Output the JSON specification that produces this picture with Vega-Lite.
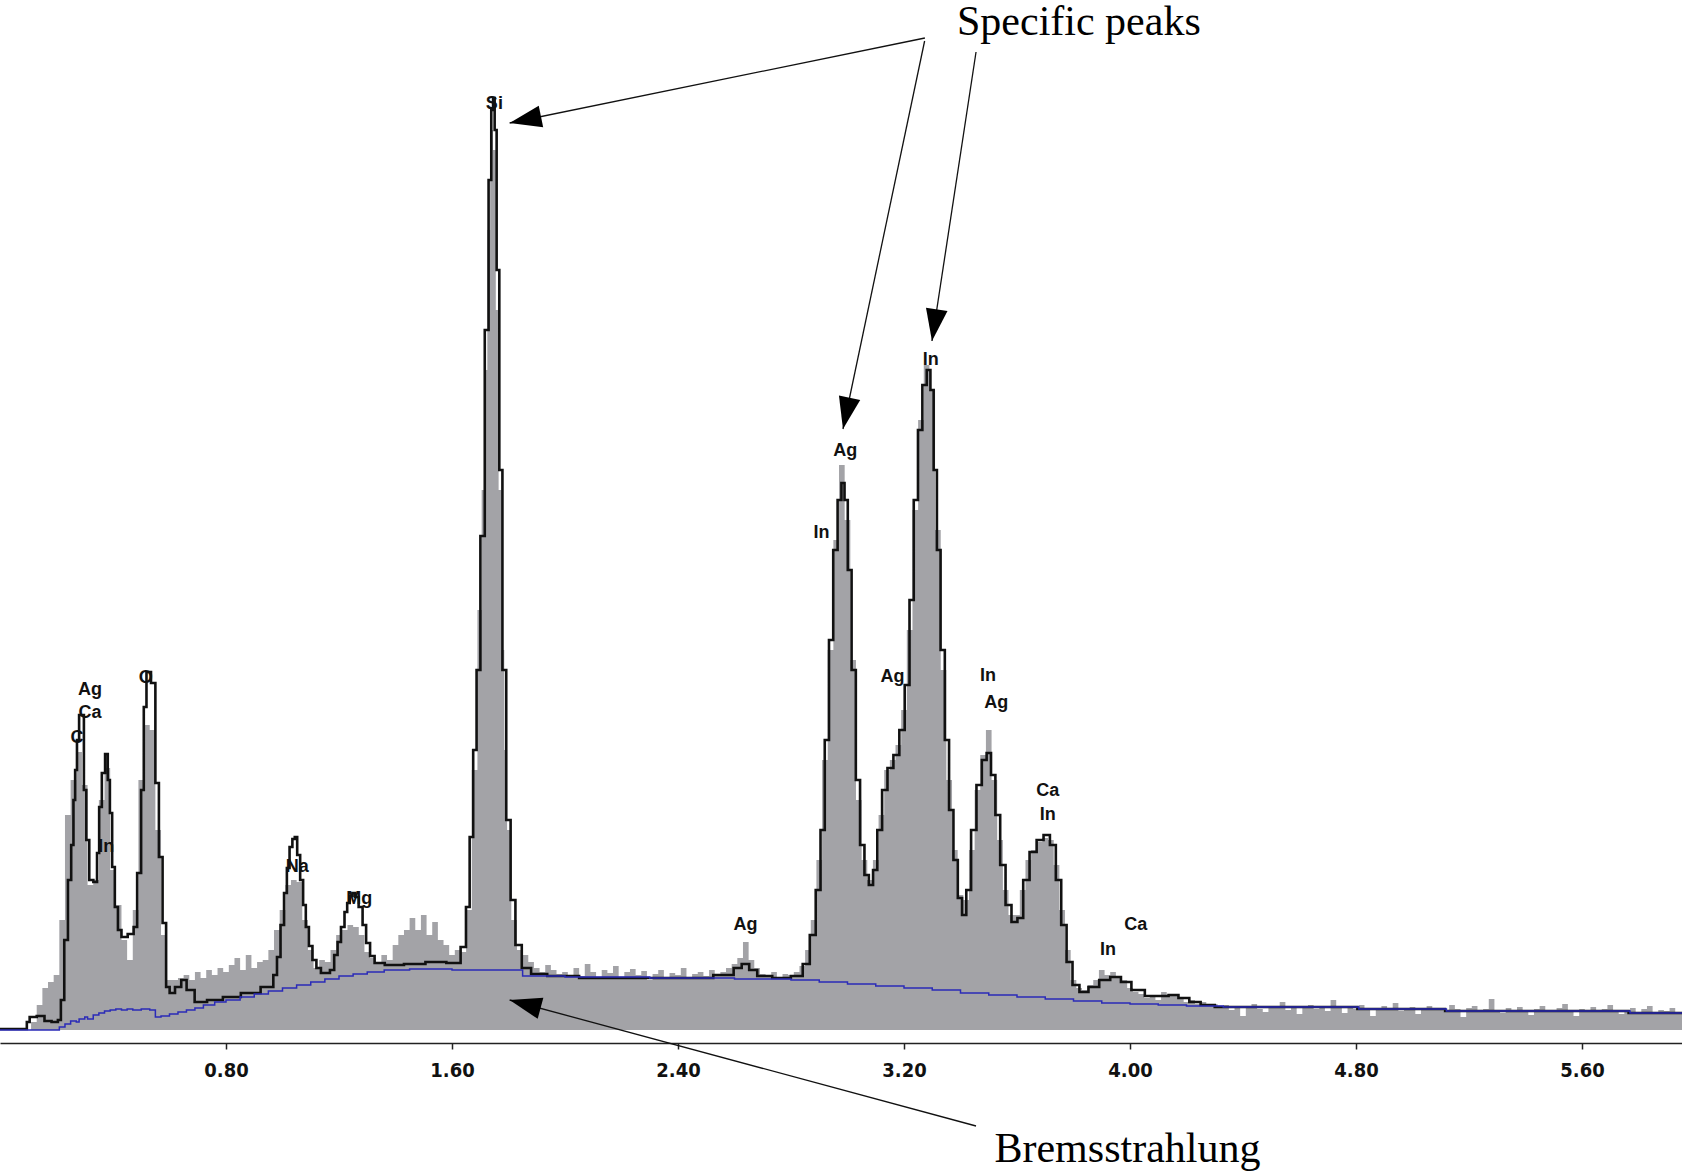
{
"$schema": "https://vega.github.io/schema/vega-lite/v6.json",
"width": 1682, "height": 1030,
"autosize": {"type": "none"},
"padding": {"left": 0, "top": 0, "right": 0, "bottom": 145},
"background": "white",
"config": {"view": {"stroke": null}},
"datasets": {
"gray": [
{"kev":0.00,"counts":0},{"kev":0.02,"counts":0},{"kev":0.04,"counts":0},{"kev":0.06,"counts":0},{"kev":0.08,"counts":0},{"kev":0.10,"counts":0},
{"kev":0.12,"counts":8},{"kev":0.14,"counts":25},{"kev":0.16,"counts":42},{"kev":0.18,"counts":48},{"kev":0.20,"counts":55},{"kev":0.22,"counts":110},
{"kev":0.24,"counts":215},{"kev":0.26,"counts":250},{"kev":0.28,"counts":278},{"kev":0.30,"counts":245},{"kev":0.32,"counts":145},{"kev":0.34,"counts":150},
{"kev":0.36,"counts":230},{"kev":0.38,"counts":262},{"kev":0.40,"counts":160},{"kev":0.42,"counts":125},{"kev":0.44,"counts":90},{"kev":0.46,"counts":70},
{"kev":0.48,"counts":120},{"kev":0.50,"counts":250},{"kev":0.52,"counts":305},{"kev":0.54,"counts":300},{"kev":0.56,"counts":200},{"kev":0.58,"counts":95},
{"kev":0.60,"counts":50},{"kev":0.62,"counts":50},{"kev":0.64,"counts":52},{"kev":0.66,"counts":55},{"kev":0.68,"counts":50},{"kev":0.70,"counts":58},
{"kev":0.72,"counts":52},{"kev":0.74,"counts":60},{"kev":0.76,"counts":55},{"kev":0.78,"counts":62},{"kev":0.80,"counts":58},{"kev":0.82,"counts":65},
{"kev":0.84,"counts":72},{"kev":0.86,"counts":60},{"kev":0.88,"counts":75},{"kev":0.90,"counts":62},{"kev":0.92,"counts":68},{"kev":0.94,"counts":70},
{"kev":0.96,"counts":80},{"kev":0.98,"counts":100},{"kev":1.00,"counts":120},{"kev":1.02,"counts":145},{"kev":1.04,"counts":150},{"kev":1.06,"counts":148},
{"kev":1.08,"counts":110},{"kev":1.10,"counts":80},{"kev":1.12,"counts":62},{"kev":1.14,"counts":70},{"kev":1.16,"counts":68},{"kev":1.18,"counts":80},
{"kev":1.20,"counts":95},{"kev":1.22,"counts":100},{"kev":1.24,"counts":105},{"kev":1.26,"counts":103},{"kev":1.28,"counts":95},{"kev":1.30,"counts":78},
{"kev":1.32,"counts":72},{"kev":1.34,"counts":68},{"kev":1.36,"counts":75},{"kev":1.38,"counts":70},{"kev":1.40,"counts":85},{"kev":1.42,"counts":95},
{"kev":1.44,"counts":100},{"kev":1.46,"counts":112},{"kev":1.48,"counts":100},{"kev":1.50,"counts":115},{"kev":1.52,"counts":95},{"kev":1.54,"counts":108},
{"kev":1.56,"counts":90},{"kev":1.58,"counts":85},{"kev":1.60,"counts":75},{"kev":1.62,"counts":80},{"kev":1.64,"counts":78},{"kev":1.66,"counts":120},
{"kev":1.68,"counts":260},{"kev":1.70,"counts":420},{"kev":1.71,"counts":540},{"kev":1.72,"counts":660},{"kev":1.73,"counts":800},{"kev":1.74,"counts":900},
{"kev":1.75,"counts":880},{"kev":1.76,"counts":720},{"kev":1.77,"counts":540},{"kev":1.78,"counts":380},{"kev":1.79,"counts":280},{"kev":1.80,"counts":200},
{"kev":1.82,"counts":110},{"kev":1.84,"counts":80},{"kev":1.86,"counts":75},{"kev":1.88,"counts":68},{"kev":1.90,"counts":62},{"kev":1.92,"counts":58},
{"kev":1.94,"counts":65},{"kev":1.96,"counts":60},{"kev":1.98,"counts":56},{"kev":2.00,"counts":58},{"kev":2.02,"counts":55},{"kev":2.04,"counts":62},
{"kev":2.06,"counts":54},{"kev":2.08,"counts":66},{"kev":2.10,"counts":58},{"kev":2.12,"counts":53},{"kev":2.14,"counts":60},{"kev":2.16,"counts":57},
{"kev":2.18,"counts":64},{"kev":2.20,"counts":52},{"kev":2.22,"counts":58},{"kev":2.24,"counts":61},{"kev":2.26,"counts":55},{"kev":2.28,"counts":59},
{"kev":2.30,"counts":50},{"kev":2.32,"counts":56},{"kev":2.34,"counts":60},{"kev":2.36,"counts":53},{"kev":2.38,"counts":57},{"kev":2.40,"counts":55},
{"kev":2.42,"counts":62},{"kev":2.44,"counts":52},{"kev":2.46,"counts":56},{"kev":2.48,"counts":58},{"kev":2.50,"counts":54},{"kev":2.52,"counts":60},
{"kev":2.54,"counts":56},{"kev":2.56,"counts":58},{"kev":2.58,"counts":62},{"kev":2.60,"counts":66},{"kev":2.62,"counts":72},{"kev":2.64,"counts":88},
{"kev":2.66,"counts":70},{"kev":2.68,"counts":62},{"kev":2.70,"counts":56},{"kev":2.72,"counts":54},{"kev":2.74,"counts":58},{"kev":2.76,"counts":52},
{"kev":2.78,"counts":56},{"kev":2.80,"counts":55},{"kev":2.82,"counts":58},{"kev":2.84,"counts":64},{"kev":2.86,"counts":80},{"kev":2.88,"counts":110},
{"kev":2.90,"counts":170},{"kev":2.92,"counts":270},{"kev":2.94,"counts":380},{"kev":2.96,"counts":490},{"kev":2.98,"counts":565},{"kev":3.00,"counts":510},
{"kev":3.02,"counts":370},{"kev":3.04,"counts":230},{"kev":3.06,"counts":170},{"kev":3.08,"counts":150},{"kev":3.10,"counts":170},{"kev":3.12,"counts":215},
{"kev":3.14,"counts":260},{"kev":3.16,"counts":270},{"kev":3.18,"counts":285},{"kev":3.20,"counts":320},{"kev":3.22,"counts":400},{"kev":3.24,"counts":520},
{"kev":3.26,"counts":610},{"kev":3.28,"counts":665},{"kev":3.30,"counts":640},{"kev":3.32,"counts":500},{"kev":3.34,"counts":360},{"kev":3.36,"counts":250},
{"kev":3.38,"counts":180},{"kev":3.40,"counts":135},{"kev":3.42,"counts":130},{"kev":3.44,"counts":180},{"kev":3.46,"counts":240},{"kev":3.48,"counts":275},
{"kev":3.50,"counts":300},{"kev":3.52,"counts":250},{"kev":3.54,"counts":190},{"kev":3.56,"counts":140},{"kev":3.58,"counts":115},{"kev":3.60,"counts":115},
{"kev":3.62,"counts":140},{"kev":3.64,"counts":170},{"kev":3.66,"counts":180},{"kev":3.68,"counts":188},{"kev":3.70,"counts":192},{"kev":3.72,"counts":190},
{"kev":3.74,"counts":165},{"kev":3.76,"counts":120},{"kev":3.78,"counts":80},{"kev":3.80,"counts":50},{"kev":3.82,"counts":42},{"kev":3.84,"counts":40},
{"kev":3.86,"counts":45},{"kev":3.88,"counts":50},{"kev":3.90,"counts":60},{"kev":3.92,"counts":55},{"kev":3.94,"counts":58},{"kev":3.96,"counts":52},
{"kev":3.98,"counts":50},{"kev":4.00,"counts":42},{"kev":4.02,"counts":38},{"kev":4.04,"counts":36},{"kev":4.06,"counts":32},{"kev":4.08,"counts":35},
{"kev":4.10,"counts":30},{"kev":4.12,"counts":38},{"kev":4.14,"counts":34},{"kev":4.16,"counts":36},{"kev":4.18,"counts":32},{"kev":4.20,"counts":28},
{"kev":4.22,"counts":30},{"kev":4.24,"counts":26},{"kev":4.26,"counts":28},{"kev":4.28,"counts":24},{"kev":4.30,"counts":26},{"kev":4.32,"counts":22},
{"kev":4.34,"counts":25},{"kev":4.36,"counts":20},{"kev":4.38,"counts":24},{"kev":4.40,"counts":14},{"kev":4.42,"counts":23},{"kev":4.44,"counts":26},
{"kev":4.46,"counts":21},{"kev":4.48,"counts":18},{"kev":4.50,"counts":24},{"kev":4.52,"counts":22},{"kev":4.54,"counts":28},{"kev":4.56,"counts":20},
{"kev":4.58,"counts":23},{"kev":4.60,"counts":16},{"kev":4.62,"counts":22},{"kev":4.64,"counts":25},{"kev":4.66,"counts":21},{"kev":4.68,"counts":24},
{"kev":4.70,"counts":19},{"kev":4.72,"counts":30},{"kev":4.74,"counts":22},{"kev":4.76,"counts":17},{"kev":4.78,"counts":23},{"kev":4.80,"counts":21},
{"kev":4.82,"counts":25},{"kev":4.84,"counts":20},{"kev":4.86,"counts":14},{"kev":4.88,"counts":22},{"kev":4.90,"counts":24},{"kev":4.92,"counts":21},
{"kev":4.94,"counts":27},{"kev":4.96,"counts":19},{"kev":4.98,"counts":22},{"kev":5.00,"counts":23},{"kev":5.02,"counts":16},{"kev":5.04,"counts":21},
{"kev":5.06,"counts":24},{"kev":5.08,"counts":20},{"kev":5.10,"counts":22},{"kev":5.12,"counts":18},{"kev":5.14,"counts":25},{"kev":5.16,"counts":21},
{"kev":5.18,"counts":13},{"kev":5.20,"counts":22},{"kev":5.22,"counts":24},{"kev":5.24,"counts":19},{"kev":5.26,"counts":21},{"kev":5.28,"counts":31},
{"kev":5.30,"counts":20},{"kev":5.32,"counts":17},{"kev":5.34,"counts":22},{"kev":5.36,"counts":19},{"kev":5.38,"counts":23},{"kev":5.40,"counts":20},
{"kev":5.42,"counts":15},{"kev":5.44,"counts":21},{"kev":5.46,"counts":24},{"kev":5.48,"counts":18},{"kev":5.50,"counts":20},{"kev":5.52,"counts":22},
{"kev":5.54,"counts":26},{"kev":5.56,"counts":19},{"kev":5.58,"counts":14},{"kev":5.60,"counts":21},{"kev":5.62,"counts":20},{"kev":5.64,"counts":23},
{"kev":5.66,"counts":18},{"kev":5.68,"counts":21},{"kev":5.70,"counts":25},{"kev":5.72,"counts":19},{"kev":5.74,"counts":16},{"kev":5.76,"counts":20},
{"kev":5.78,"counts":22},{"kev":5.80,"counts":18},{"kev":5.82,"counts":21},{"kev":5.84,"counts":24},{"kev":5.86,"counts":17},{"kev":5.88,"counts":20},
{"kev":5.90,"counts":19},{"kev":5.92,"counts":22},{"kev":5.94,"counts":18},{"kev":5.96,"counts":18}
],
"fit": [
{"kev":0,"counts":1},{"kev":0.09,"counts":1},{"kev":0.1,"counts":8},{"kev":0.11,"counts":13},{"kev":0.15,"counts":14},{"kev":0.165,"counts":9},
{"kev":0.2,"counts":8},{"kev":0.21,"counts":10},{"kev":0.221,"counts":30},{"kev":0.234,"counts":90},{"kev":0.247,"counts":150},{"kev":0.257,"counts":185},
{"kev":0.263,"counts":230},{"kev":0.269,"counts":260},{"kev":0.276,"counts":290},{"kev":0.284,"counts":315},{"kev":0.293,"counts":315},{"kev":0.301,"counts":240},
{"kev":0.31,"counts":190},{"kev":0.322,"counts":150},{"kev":0.339,"counts":148},{"kev":0.348,"counts":177},{"kev":0.354,"counts":223},{"kev":0.367,"counts":257},
{"kev":0.377,"counts":276},{"kev":0.386,"counts":250},{"kev":0.392,"counts":217},{"kev":0.402,"counts":163},{"kev":0.411,"counts":123},{"kev":0.424,"counts":100},
{"kev":0.436,"counts":93},{"kev":0.468,"counts":96},{"kev":0.478,"counts":103},{"kev":0.493,"counts":157},{"kev":0.506,"counts":240},{"kev":0.512,"counts":323},
{"kev":0.525,"counts":358},{"kev":0.544,"counts":347},{"kev":0.556,"counts":247},{"kev":0.569,"counts":173},{"kev":0.582,"counts":107},{"kev":0.594,"counts":43},
{"kev":0.607,"counts":37},{"kev":0.632,"counts":43},{"kev":0.651,"counts":50},{"kev":0.67,"counts":40},{"kev":0.708,"counts":28},{"kev":0.758,"counts":30},
{"kev":0.82,"counts":33},{"kev":0.885,"counts":37},{"kev":0.96,"counts":43},{"kev":0.975,"counts":55},{"kev":0.986,"counts":73},{"kev":1.0,"counts":105},
{"kev":1.011,"counts":137},{"kev":1.02,"counts":162},{"kev":1.03,"counts":183},{"kev":1.04,"counts":191},{"kev":1.047,"counts":193},{"kev":1.057,"counts":175},
{"kev":1.068,"counts":150},{"kev":1.078,"counts":125},{"kev":1.087,"counts":103},{"kev":1.1,"counts":84},{"kev":1.112,"counts":70},{"kev":1.128,"counts":62},
{"kev":1.144,"counts":57},{"kev":1.16,"counts":57},{"kev":1.176,"counts":60},{"kev":1.19,"counts":75},{"kev":1.2,"counts":88},{"kev":1.214,"counts":103},
{"kev":1.225,"counts":118},{"kev":1.233,"counts":127},{"kev":1.243,"counts":134},{"kev":1.252,"counts":137},{"kev":1.262,"counts":133},{"kev":1.277,"counts":123},
{"kev":1.29,"counts":105},{"kev":1.302,"counts":87},{"kev":1.318,"counts":74},{"kev":1.334,"counts":67},{"kev":1.39,"counts":65},
{"kev":1.47,"counts":66},{"kev":1.542,"counts":68},{"kev":1.618,"counts":67},{"kev":1.643,"counts":83},{"kev":1.656,"counts":123},{"kev":1.669,"counts":193},{"kev":1.681,"counts":280},
{"kev":1.693,"counts":360},{"kev":1.708,"counts":494},{"kev":1.724,"counts":700},{"kev":1.735,"counts":850},{"kev":1.743,"counts":920},{"kev":1.748,"counts":932},
{"kev":1.754,"counts":900},{"kev":1.762,"counts":760},{"kev":1.773,"counts":560},{"kev":1.784,"counts":360},{"kev":1.8,"counts":210},{"kev":1.815,"counts":130},
{"kev":1.834,"counts":85},{"kev":1.86,"counts":62},{"kev":1.9,"counts":56},{"kev":1.974,"counts":54},{"kev":2.126,"counts":52},{"kev":2.278,"counts":52},
{"kev":2.468,"counts":52},{"kev":2.582,"counts":55},{"kev":2.612,"counts":62},{"kev":2.639,"counts":66},{"kev":2.665,"counts":60},{"kev":2.696,"counts":54},
{"kev":2.771,"counts":52},{"kev":2.828,"counts":54},{"kev":2.855,"counts":66},{"kev":2.878,"counts":95},{"kev":2.897,"counts":140},{"kev":2.912,"counts":200},
{"kev":2.927,"counts":290},{"kev":2.942,"counts":390},{"kev":2.957,"counts":480},{"kev":2.973,"counts":530},{"kev":2.984,"counts":547},{"kev":2.995,"counts":530},
{"kev":3.007,"counts":460},{"kev":3.022,"counts":360},{"kev":3.037,"counts":250},{"kev":3.052,"counts":185},{"kev":3.068,"counts":155},{"kev":3.083,"counts":145},
{"kev":3.098,"counts":160},{"kev":3.113,"counts":200},{"kev":3.132,"counts":240},{"kev":3.151,"counts":262},{"kev":3.174,"counts":275},{"kev":3.193,"counts":300},
{"kev":3.212,"counts":345},{"kev":3.227,"counts":430},{"kev":3.242,"counts":530},{"kev":3.257,"counts":600},{"kev":3.273,"counts":645},{"kev":3.288,"counts":660},
{"kev":3.299,"counts":640},{"kev":3.311,"counts":560},{"kev":3.322,"counts":480},{"kev":3.337,"counts":380},{"kev":3.352,"counts":290},{"kev":3.367,"counts":220},
{"kev":3.383,"counts":170},{"kev":3.398,"counts":132},{"kev":3.413,"counts":115},{"kev":3.428,"counts":140},{"kev":3.447,"counts":200},{"kev":3.466,"counts":245},
{"kev":3.485,"counts":270},{"kev":3.5,"counts":277},{"kev":3.516,"counts":255},{"kev":3.531,"counts":215},{"kev":3.55,"counts":165},{"kev":3.569,"counts":125},
{"kev":3.592,"counts":108},{"kev":3.611,"counts":112},{"kev":3.633,"counts":150},{"kev":3.656,"counts":178},{"kev":3.683,"counts":190},{"kev":3.705,"counts":195},
{"kev":3.728,"counts":185},{"kev":3.747,"counts":150},{"kev":3.766,"counts":105},{"kev":3.785,"counts":68},{"kev":3.808,"counts":45},{"kev":3.834,"counts":38},
{"kev":3.872,"counts":43},{"kev":3.91,"counts":50},{"kev":3.95,"counts":53},{"kev":3.986,"counts":48},{"kev":4.024,"counts":40},{"kev":4.081,"counts":34},
{"kev":4.12,"counts":34},{"kev":4.153,"counts":35},{"kev":4.19,"counts":32},{"kev":4.23,"counts":28},{"kev":4.27,"counts":25},{"kev":4.33,"counts":23},
{"kev":4.80,"counts":23},{"kev":4.81,"counts":21},{"kev":5.11,"counts":21},{"kev":5.12,"counts":19},{"kev":5.76,"counts":19},{"kev":5.77,"counts":17},{"kev":5.96,"counts":17}
],
"background": [
{"kev":0,"counts":0},{"kev":0.2,"counts":0},{"kev":0.21,"counts":3},{"kev":0.23,"counts":6},{"kev":0.25,"counts":9},{"kev":0.27,"counts":8},
{"kev":0.28,"counts":11},{"kev":0.3,"counts":13},{"kev":0.31,"counts":11},{"kev":0.33,"counts":15},{"kev":0.35,"counts":17},{"kev":0.37,"counts":19},
{"kev":0.39,"counts":20},{"kev":0.41,"counts":21},{"kev":0.43,"counts":20},{"kev":0.45,"counts":21},{"kev":0.47,"counts":20},{"kev":0.5,"counts":21},
{"kev":0.53,"counts":20},{"kev":0.55,"counts":13},{"kev":0.57,"counts":14},{"kev":0.6,"counts":16},{"kev":0.63,"counts":18},{"kev":0.66,"counts":20},
{"kev":0.69,"counts":22},{"kev":0.72,"counts":25},{"kev":0.76,"counts":28},{"kev":0.8,"counts":30},{"kev":0.85,"counts":33},{"kev":0.9,"counts":36},
{"kev":0.95,"counts":39},{"kev":1.0,"counts":42},{"kev":1.05,"counts":45},{"kev":1.1,"counts":48},{"kev":1.15,"counts":51},{"kev":1.2,"counts":54},
{"kev":1.25,"counts":56},{"kev":1.3,"counts":58},{"kev":1.36,"counts":60},{"kev":1.45,"counts":61},{"kev":1.55,"counts":61},{"kev":1.6,"counts":60},
{"kev":1.84,"counts":60},{"kev":1.85,"counts":54},{"kev":2.0,"counts":53},{"kev":2.3,"counts":52},{"kev":2.6,"counts":51},{"kev":2.8,"counts":50},
{"kev":2.9,"counts":48},{"kev":3.0,"counts":46},{"kev":3.1,"counts":44},{"kev":3.2,"counts":42},{"kev":3.3,"counts":40},{"kev":3.4,"counts":37},
{"kev":3.5,"counts":35},{"kev":3.6,"counts":33},{"kev":3.7,"counts":31},{"kev":3.8,"counts":29},{"kev":3.9,"counts":27},{"kev":4.0,"counts":26},
{"kev":4.1,"counts":25},{"kev":4.2,"counts":24},{"kev":4.33,"counts":23},{"kev":4.81,"counts":21},{"kev":5.12,"counts":19},{"kev":5.77,"counts":17},{"kev":5.96,"counts":17}
],
"elements": [
{"label":"C","kev":0.273,"counts":292},{"label":"Ca","kev":0.319,"counts":317},{"label":"Ag","kev":0.319,"counts":340},
{"label":"In","kev":0.376,"counts":183},{"label":"O","kev":0.516,"counts":352},{"label":"Na","kev":1.052,"counts":163},
{"label":"Mg","kev":1.272,"counts":131},{"label":"Si","kev":1.75,"counts":926},{"label":"Ag","kev":2.639,"counts":105},
{"label":"Ag","kev":2.992,"counts":579},{"label":"In","kev":2.908,"counts":497},{"label":"Ag","kev":3.159,"counts":353},
{"label":"In","kev":3.295,"counts":670},{"label":"In","kev":3.497,"counts":354},{"label":"Ag","kev":3.527,"counts":327},
{"label":"Ca","kev":3.709,"counts":239},{"label":"In","kev":3.709,"counts":215},{"label":"In","kev":3.922,"counts":80},
{"label":"Ca","kev":4.02,"counts":105}
],
"arrows": [
{"arrow":"si","kev":3.274,"counts":992,"kev2":1.804,"counts2":907},
{"arrow":"ag","kev":3.273,"counts":989,"kev2":2.984,"counts2":601},
{"arrow":"in","kev":3.455,"counts":978,"kev2":3.299,"counts2":689},
{"arrow":"brems","kev":3.455,"counts":-96,"kev2":1.804,"counts2":30}
],
"top_note": [
{"text":"Specific peaks","kev":3.819,"counts":1028}
],
"bottom_note": [
{"text":"Bremsstrahlung","kev":3.991,"counts":-132}
]
},
"resolve": {"axis": {"x": "independent"}},
"layer": [
{
"data": {"name": "gray"},
"mark": {"type": "area", "interpolate": "step", "color": "#a3a3a7"},
"encoding": {
"x": {"field": "kev", "type": "quantitative", "scale": {"domain": [0, 5.954], "nice": false, "zero": false},
 "axis": {"values": [0.8, 1.6, 2.4, 3.2, 4.0, 4.8, 5.6], "format": ".2f", "offset": 13, "tickSize": 6, "tickWidth": 1.5, "tickColor": "#222", "domainColor": "#222", "domainWidth": 1.5,
  "labelFont": "Liberation Sans Narrow, DejaVu Sans Condensed, sans-serif", "labelFontWeight": "bold", "labelFontSize": 20, "labelColor": "#111", "labelPadding": 11, "labelDx": 7,
  "labelFlush": false, "labelOverlap": false, "grid": false, "title": null}},
"y": {"field": "counts", "type": "quantitative", "scale": {"domain": [0, 1030], "nice": false, "zero": false}, "axis": null}
}
},
{
"data": {"name": "elements"},
"mark": {"type": "text", "font": "Liberation Sans, Arial, sans-serif", "fontWeight": "bold", "fontSize": 18, "color": "#111", "align": "center", "baseline": "middle"},
"encoding": {
"x": {"field": "kev", "type": "quantitative", "scale": {"domain": [0, 5.954], "nice": false, "zero": false}, "axis": null},
"y": {"field": "counts", "type": "quantitative", "scale": {"domain": [0, 1030], "nice": false, "zero": false}, "axis": null},
"text": {"field": "label"}
}
},
{
"data": {"name": "fit"},
"mark": {"type": "line", "interpolate": "step", "color": "#111", "strokeWidth": 2.6},
"encoding": {
"x": {"field": "kev", "type": "quantitative", "scale": {"domain": [0, 5.954], "nice": false, "zero": false}, "axis": null},
"y": {"field": "counts", "type": "quantitative", "scale": {"domain": [0, 1030], "nice": false, "zero": false}, "axis": null}
}
},
{
"data": {"name": "background"},
"mark": {"type": "line", "interpolate": "step-after", "color": "#2b2bb8", "strokeWidth": 1.5},
"encoding": {
"x": {"field": "kev", "type": "quantitative", "scale": {"domain": [0, 5.954], "nice": false, "zero": false},
 "axis": {"values": [0.8, 1.6, 2.4, 3.2, 4.0, 4.8, 5.6], "offset": 7, "tickSize": 6, "tickWidth": 1.5, "tickColor": "#222", "domain": false, "labels": false, "grid": false, "title": null}},
"y": {"field": "counts", "type": "quantitative", "scale": {"domain": [0, 1030], "nice": false, "zero": false}, "axis": null}
}
},
{
"data": {"name": "arrows"},
"mark": {"type": "rule", "color": "#111", "strokeWidth": 1.3},
"encoding": {
"x": {"field": "kev", "type": "quantitative", "scale": {"domain": [0, 5.954], "nice": false, "zero": false}, "axis": null},
"y": {"field": "counts", "type": "quantitative", "scale": {"domain": [0, 1030], "nice": false, "zero": false}, "axis": null},
"x2": {"field": "kev2"},
"y2": {"field": "counts2"}
}
},
{
"data": {"name": "arrows"},
"mark": {"type": "point", "shape": "M0,0L0.34,1L-0.34,1Z", "filled": true, "color": "#000", "opacity": 1, "size": 4096, "strokeWidth": 0},
"encoding": {
"x": {"field": "kev2", "type": "quantitative", "scale": {"domain": [0, 5.954], "nice": false, "zero": false}, "axis": null},
"y": {"field": "counts2", "type": "quantitative", "scale": {"domain": [0, 1030], "nice": false, "zero": false}, "axis": null},
"angle": {"field": "arrow", "type": "nominal", "scale": {"type": "ordinal", "domain": ["si", "ag", "in", "brems"], "range": [258.3, 191.9, 188.6, 285.1]}, "legend": null}
}
},
{
"data": {"name": "top_note"},
"mark": {"type": "text", "font": "Liberation Serif, DejaVu Serif, serif", "fontSize": 42, "color": "#000", "align": "center", "baseline": "top"},
"encoding": {
"x": {"field": "kev", "type": "quantitative", "scale": {"domain": [0, 5.954], "nice": false, "zero": false}, "axis": null},
"y": {"field": "counts", "type": "quantitative", "scale": {"domain": [0, 1030], "nice": false, "zero": false}, "axis": null},
"text": {"field": "text"}
}
},
{
"data": {"name": "bottom_note"},
"mark": {"type": "text", "font": "Liberation Serif, DejaVu Serif, serif", "fontSize": 42, "color": "#000", "align": "center", "baseline": "alphabetic"},
"encoding": {
"x": {"field": "kev", "type": "quantitative", "scale": {"domain": [0, 5.954], "nice": false, "zero": false}, "axis": null},
"y": {"field": "counts", "type": "quantitative", "scale": {"domain": [0, 1030], "nice": false, "zero": false}, "axis": null},
"text": {"field": "text"}
}
}
]
}
